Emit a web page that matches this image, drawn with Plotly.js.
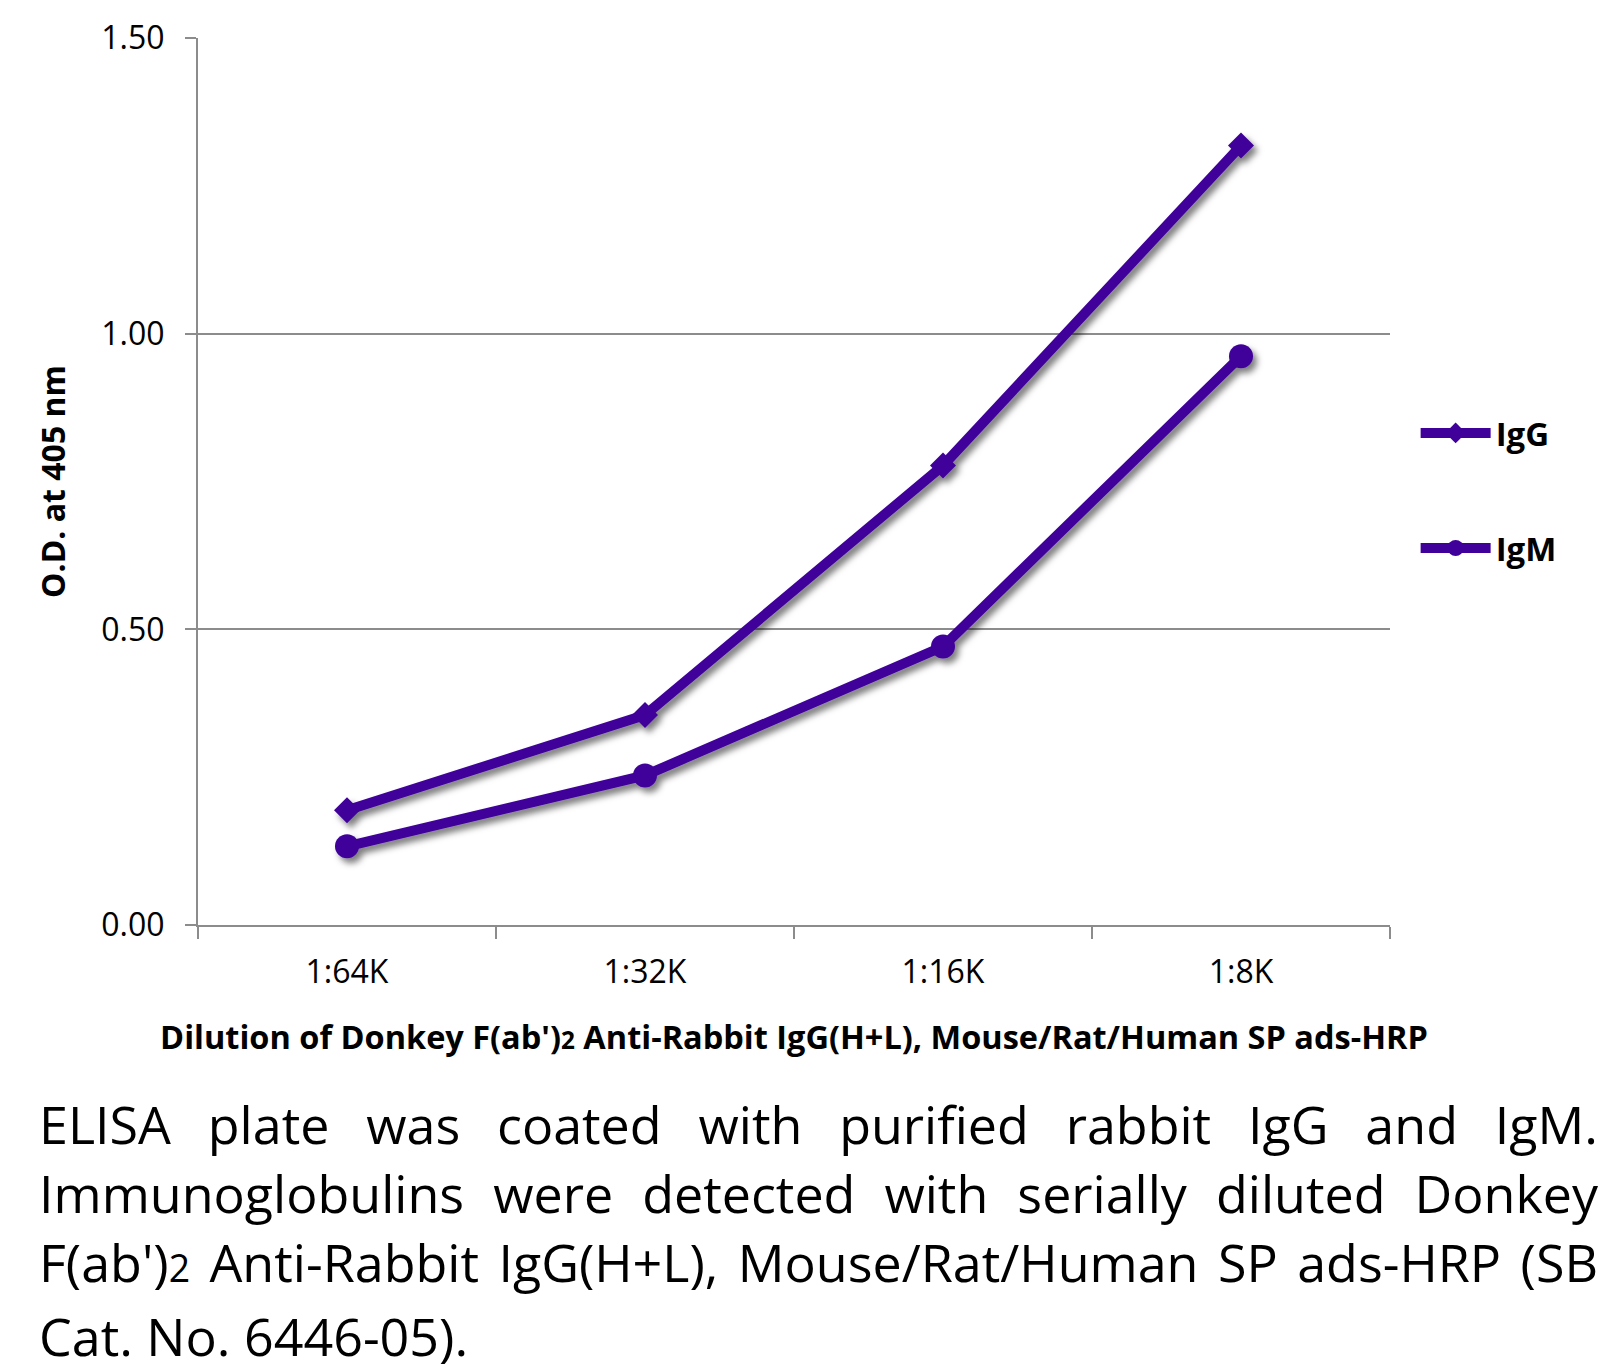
<!DOCTYPE html>
<html>
<head>
<meta charset="utf-8">
<script src="https://cdn.plot.ly/plotly-3.0.1.min.js"></script>
<style>
  html, body { margin: 0; padding: 0; background: #fff; }
  #wrap { position: relative; width: 1624px; height: 1369px; }
  #chart { position: absolute; left: 0; top: 0; width: 1624px; height: 1369px; }
  #chart .scatterlayer .trace { filter: url(#dshadow); }
  #caption { position: absolute; left: 39px; top: 1090px; width: 1559px;
    font-family: 'Open Sans', sans-serif; font-size: 52px; line-height: 68.8px; color: #000; }
  #caption .j { text-align: justify; text-align-last: justify; }
  #caption .l { text-align: left; }
  #caption .sub { font-size: 72%; }
</style>
</head>
<body>
<svg width="0" height="0" style="position:absolute">
  <defs>
    <filter id="dshadow" x="-10%" y="-10%" width="125%" height="135%">
      <feDropShadow dx="4" dy="5" stdDeviation="3" flood-color="#000" flood-opacity="0.5"/>
    </filter>
  </defs>
</svg>
<div id="wrap">
  <div id="chart"></div>
  <div id="caption">
    <div class="j">ELISA plate was coated with purified rabbit IgG and IgM.</div>
    <div class="j">Immunoglobulins were detected with serially diluted Donkey</div>
    <div class="j">F(ab')<span class="sub">2</span> Anti-Rabbit IgG(H+L), Mouse/Rat/Human SP ads-HRP (SB</div>
    <div class="l">Cat. No. 6446-05).</div>
  </div>
</div>
<script>
// ---- data ----
const dilutions = ['1:64K', '1:32K', '1:16K', '1:8K'];
const igG = [0.194, 0.355, 0.777, 1.318];
const igM = [0.133, 0.253, 0.471, 0.962];
const seriesNames = ['IgG', 'IgM'];
const yTickVals = [0, 0.5, 1.0, 1.5];
const yTickText = ['0.00', '0.50', '1.00', '1.50'];

const purple = '#40009a';
const grey = '#8c8c8c';

const traces = [
  {
    x: dilutions, y: igG, name: seriesNames[0], type: 'scatter', mode: 'lines+markers',
    line: { color: purple, width: 10 },
    marker: { symbol: 'diamond', size: 20, color: purple },
    legend: 'legend'
  },
  {
    x: dilutions, y: igM, name: seriesNames[1], type: 'scatter', mode: 'lines+markers',
    line: { color: purple, width: 10 },
    marker: { symbol: 'circle', size: 24, color: purple },
    legend: 'legend2'
  }
];

const legendCommon = {
  xanchor: 'left', yanchor: 'middle',
  font: { family: 'Open Sans, sans-serif', size: 33, color: '#000', weight: 'bold' },
  itemwidth: 70, bgcolor: 'rgba(0,0,0,0)', borderwidth: 0
};

const layout = {
  width: 1624, height: 1369,
  margin: { l: 198, r: 234, t: 38, b: 444 },
  paper_bgcolor: '#fff', plot_bgcolor: '#fff',
  showlegend: true,
  legend: Object.assign({ x: 1.0215, y: 0.5547 }, legendCommon),
  legend2: Object.assign({ x: 1.0215, y: 0.425 }, legendCommon),
  xaxis: {
    type: 'category',
    range: [-0.5, dilutions.length - 0.5],
    autorange: false,
    tickson: 'boundaries',
    ticks: 'outside', ticklen: 12, tickwidth: 2, tickcolor: grey,
    showline: true, linecolor: grey, linewidth: 2,
    showgrid: false, zeroline: false,
    tickfont: { family: 'Open Sans, sans-serif', size: 32, color: '#000' },
    ticklabelstandoff: 18,
    title: {
      text: "Dilution of Donkey F(ab')<span style=\"font-size:75%\">2</span> Anti-Rabbit IgG(H+L), Mouse/Rat/Human SP ads-HRP",
      font: { family: "'Open Sans', sans-serif", size: 32.5, color: '#000', weight: 'bold' },
      standoff: 35
    }
  },
  yaxis: {
    range: [0, 1.5],
    autorange: false,
    tickvals: yTickVals, ticktext: yTickText,
    ticks: 'outside', ticklen: 11, tickwidth: 2, tickcolor: grey,
    showline: true, linecolor: grey, linewidth: 2,
    showgrid: true, gridcolor: grey, gridwidth: 2,
    zeroline: false,
    tickfont: { family: 'Open Sans, sans-serif', size: 32, color: '#000' },
    ticklabelstandoff: 14,
    title: {
      text: 'O.D. at 405 nm',
      font: { family: 'Open Sans, sans-serif', size: 32, color: '#000', weight: 'bold' },
      standoff: 26
    }
  }
};

Plotly.newPlot('chart', traces, layout, { displayModeBar: false, staticPlot: true });
</script>
</body>
</html>
